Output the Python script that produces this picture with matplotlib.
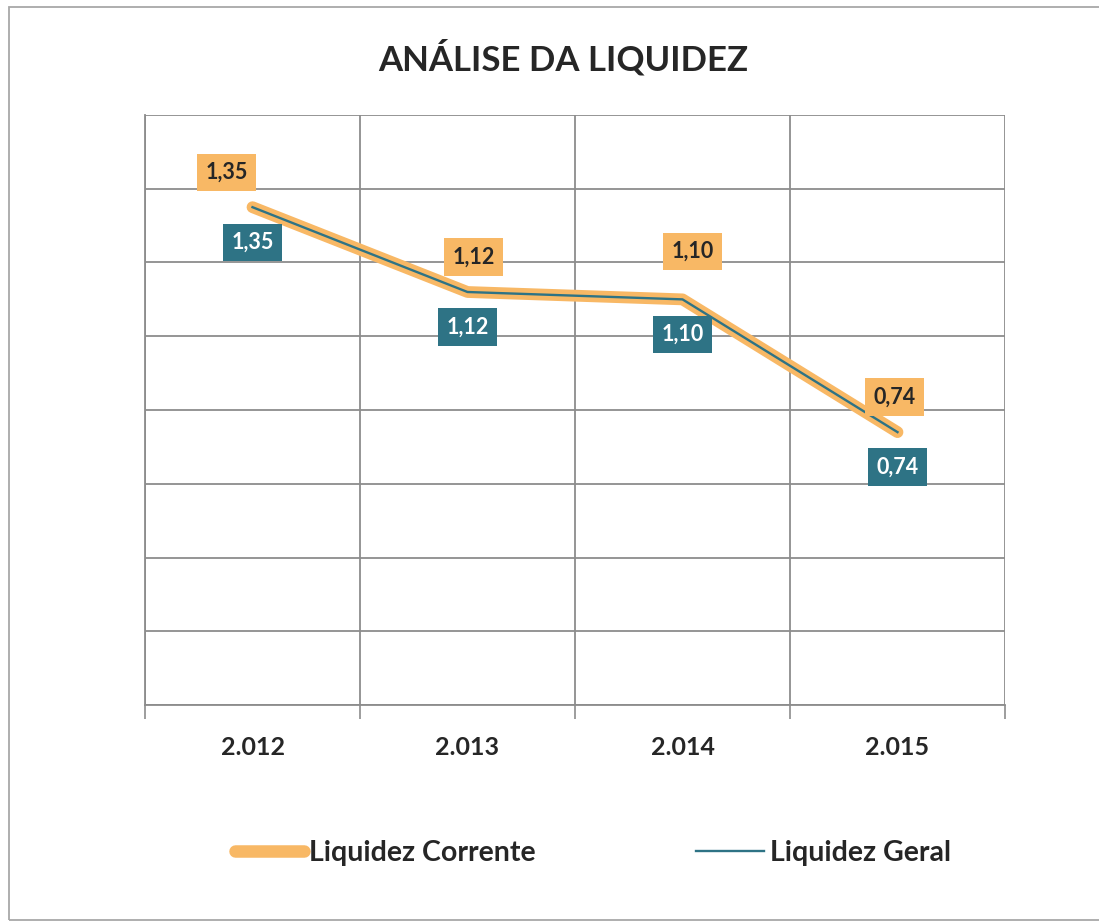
import matplotlib
matplotlib.use("Agg")
import matplotlib.pyplot as plt
from matplotlib.lines import Line2D
from matplotlib.patches import Rectangle

years = ["2.012", "2.013", "2.014", "2.015"]
liquidez_corrente = [1.35, 1.12, 1.10, 0.74]
liquidez_geral = [1.35, 1.12, 1.10, 0.74]
label_corrente = ["1,35", "1,12", "1,10", "0,74"]
label_geral = ["1,35", "1,12", "1,10", "0,74"]

ORANGE = "#F8B865"
TEAL = "#2E7385"
GRID = "#8C8C8C"
TXT = "#262626"
FONT = "Lato"

W, H = 1099, 922
fig = plt.figure(figsize=(W / 100, H / 100), dpi=100)
fig.patch.set_facecolor("white")

# outer chart border
fig.patches.append(Rectangle((9 / W, 1 - 920 / H), (W + 20) / W, (920 - 7) / H,
                             transform=fig.transFigure, fill=False,
                             edgecolor="#A8A8A8", linewidth=1.3))

ax = fig.add_axes([145 / W, 1 - 705 / H, (1005 - 145) / W, (705 - 115) / H])
x = list(range(len(years)))

ax.plot(x, liquidez_corrente, color=ORANGE, linewidth=8.5,
        solid_capstyle="round", solid_joinstyle="round", zorder=3)
ax.plot(x, liquidez_geral, color=TEAL, linewidth=1.7, zorder=4)

ax.set_xlim(-0.5, len(years) - 0.5)
ax.set_ylim(0, 1.6)
ax.set_yticks([i * 0.2 for i in range(9)])
ax.set_yticklabels([])
ax.tick_params(axis="y", length=0)
ax.set_xticks(x)
ax.set_xticklabels(years, fontsize=18, fontweight="bold", color=TXT, family=FONT)
ax.tick_params(axis="x", which="major", length=0, pad=22)
ax.set_xticks([i - 0.5 for i in range(len(years) + 1)], minor=True)
ax.tick_params(axis="x", which="minor", length=10, width=1.2, color=GRID)
ax.grid(True, which="major", axis="y", color=GRID, linewidth=1.3)
ax.grid(True, which="minor", axis="x", color=GRID, linewidth=1.3)
ax.set_axisbelow(True)
for s in ["top", "right"]:
    ax.spines[s].set_visible(False)
ax.spines["left"].set_color(GRID)
ax.spines["bottom"].set_color(GRID)
ax.spines["left"].set_linewidth(1.3)
ax.spines["bottom"].set_linewidth(1.3)

orange_off = [(-26, 35), (6, 35), (10, 48), (-3, 35)]
for i, (v, lab) in enumerate(zip(liquidez_corrente, label_corrente)):
    ax.annotate(lab, (i, v), xytext=orange_off[i], textcoords="offset pixels",
                ha="center", va="center", fontsize=15.5, fontweight="bold",
                color=TXT, family=FONT, zorder=6,
                bbox=dict(boxstyle="square,pad=0.38", facecolor=ORANGE, edgecolor="none"))
for i, (v, lab) in enumerate(zip(liquidez_geral, label_geral)):
    ax.annotate(lab, (i, v), xytext=(0, -35), textcoords="offset pixels",
                ha="center", va="center", fontsize=15.5, fontweight="bold",
                color="white", family=FONT, zorder=6,
                bbox=dict(boxstyle="square,pad=0.38", facecolor=TEAL, edgecolor="none"))

fig.text(563 / W, 1 - 58 / H, "ANÁLISE DA LIQUIDEZ", ha="center", va="center",
         fontsize=25, fontweight="bold", color=TXT, family=FONT)

handles = [Line2D([], [], color=ORANGE, linewidth=9, solid_capstyle="round"),
           Line2D([], [], color=TEAL, linewidth=1.7)]
fig.legend(handles, ["Liquidez Corrente", "Liquidez Geral"], loc="center",
           bbox_to_anchor=(593 / W, 1 - 853 / H), ncol=2, frameon=False,
           handlelength=2.4, handletextpad=0.2, columnspacing=5.6,
           prop=dict(family=FONT, weight="bold", size=20.5), labelcolor=TXT)

fig.savefig("out.png", dpi=100, facecolor="white")
